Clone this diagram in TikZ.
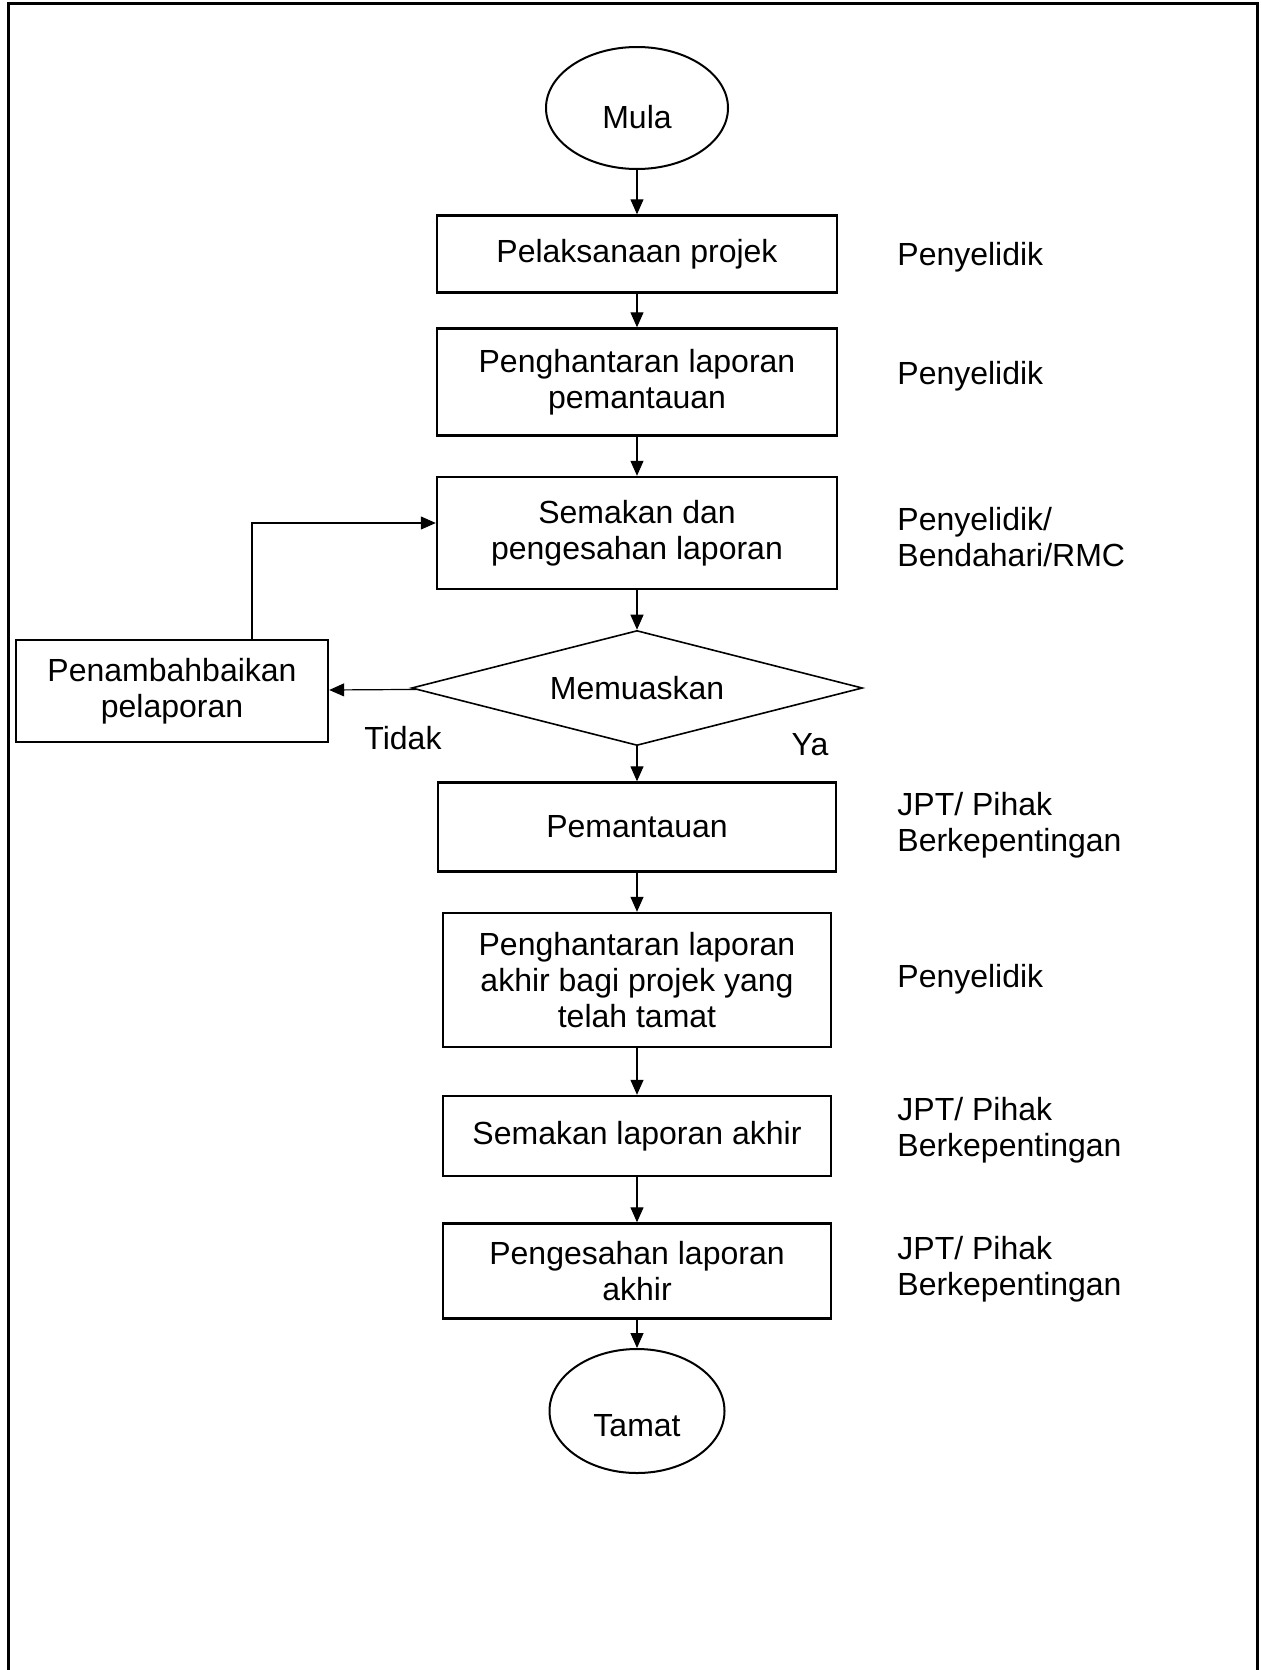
\documentclass[tikz,border=0pt]{standalone}
\usepackage{fontspec}
\setmainfont{Liberation Sans}
\usetikzlibrary{shapes.geometric,arrows.meta}

\tikzset{
  proses/.style 2 args={draw,line width=1.2pt,align=center,inner sep=0pt,
    minimum width=#1,minimum height=#2},
  terminal/.style={draw,ellipse,line width=1pt,inner sep=0pt,
    minimum width=91pt,minimum height=61pt,text height=#1,text depth=0pt},
  keputusan/.style={draw,diamond,line width=0.8pt,inner sep=0pt,aspect=3.9,
    minimum width=225.5pt,minimum height=57.5pt},
  catatan/.style={anchor=west,align=left,inner sep=0pt},
  aliran/.style={->,line width=0.6pt}
}

\begin{document}
\begin{tikzpicture}[x=0.5pt,y=-0.5pt,font=\fontsize{16}{18}\selectfont,
  >={Triangle[length=7.5pt,width=6.5pt]}]
  \useasboundingbox (0,0) rectangle (1261,1670);
  % bingkai
  \draw[line width=1.5pt] (8,1690) |- (1257,3) -- (1257,1690);

  % langkah utama
  \node[terminal=20.5pt] (mula) at (637,108) {Mula};
  \node[proses={200pt}{38.5pt}] (laksana) at (637,254) {Pelaksanaan projek};
  \node[proses={200pt}{53.5pt}] (hantar) at (637,382) {Penghantaran laporan\\pemantauan};
  \node[proses={200pt}{56pt}] (semak) at (637,533) {Semakan dan\\pengesahan laporan};
  \node[keputusan] (puas) at (637,688) {Memuaskan};
  \node[proses={156pt}{51pt}] (baiki) at (172,691) {Penambahbaikan\\pelaporan};
  \node[proses={199pt}{44.5pt}] (pantau) at (637,827) {Pemantauan};
  \node[proses={194pt}{67pt}] (akhir) at (637,980) {Penghantaran laporan\\akhir bagi projek yang\\telah tamat};
  \node[proses={194pt}{40pt}] (semakakhir) at (637,1136) {Semakan laporan akhir};
  \node[proses={194pt}{47.5pt}] (sah) at (637,1271) {Pengesahan laporan\\akhir};
  \node[terminal=25.5pt,minimum width=87.5pt,minimum height=62pt] (tamat) at (637,1411) {Tamat};

  % pihak yang bertanggungjawab
  \node[catatan] (pj1) at (897,257) {Penyelidik};
  \node[catatan] (pj2) at (897,376) {Penyelidik};
  \node[catatan] (pj3) at (897,537) {Penyelidik/\\Bendahari/RMC};
  \node[catatan] (pj4) at (897,825) {JPT/ Pihak\\Berkepentingan};
  \node[catatan] (pj5) at (897,979) {Penyelidik};
  \node[catatan] (pj6) at (897,1130) {JPT/ Pihak\\Berkepentingan};
  \node[catatan] (pj7) at (897,1269) {JPT/ Pihak\\Berkepentingan};

  % label keputusan
  \node (tidak) at (403,738) {Tidak};
  \node (ya) at (810,745) {Ya};

  % anak panah
  \foreach \a/\b in {mula/laksana,laksana/hantar,hantar/semak,semak/puas,
    puas/pantau,pantau/akhir,akhir/semakakhir,semakakhir/sah,sah/tamat}
    \draw[aliran] (\a) -- (\b);
  \draw[aliran] (puas) -- (baiki);
  \coordinate (belok) at (252,523);
  \draw[aliran] (baiki.north -| belok) |- ([yshift=5pt]semak.west);
\end{tikzpicture}
\end{document}
